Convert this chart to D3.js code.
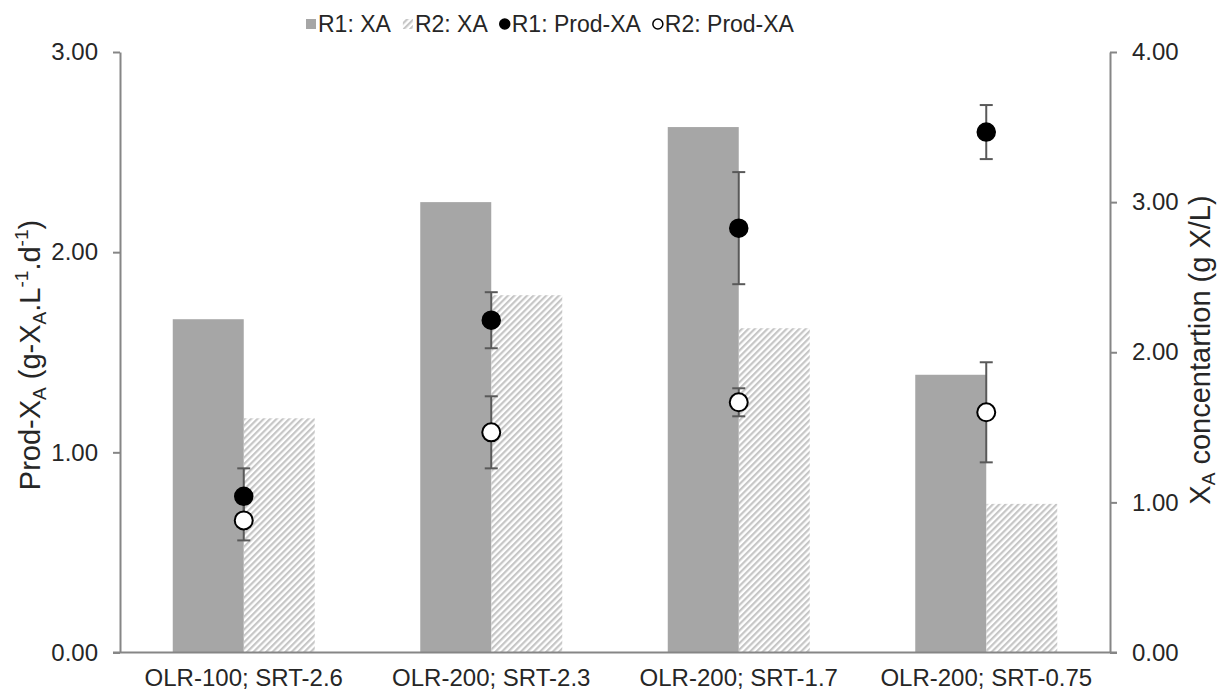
<!DOCTYPE html>
<meta charset="utf-8">
<style>
  body { margin: 0; background: #fff; }
  text { font-family: "Liberation Sans", Arial, sans-serif; fill: #262626; }
</style>

<!-- Load d3.js -->
<script src="https://d3js.org/d3.v7.min.js"></script>

<!-- Create a div where the graph will take place -->
<div id="my_dataviz"></div>

<script>

// data
var categories = ["OLR-100; SRT-2.6", "OLR-200; SRT-2.3", "OLR-200; SRT-1.7", "OLR-200; SRT-0.75"];
var r1XA = [2.22, 3.00, 3.50, 1.85];       // right axis, g X/L
var r2XA = [1.56, 2.38, 2.16, 0.99];
var r1Prod = [0.78, 1.66, 2.12, 2.60];     // left axis
var r1ProdErr = [0.14, 0.14, 0.28, 0.135];
var r2Prod = [0.66, 1.10, 1.25, 1.20];
var r2ProdErr = [0.10, 0.18, 0.07, 0.25];
var leftTicks = [0, 1, 2, 3];
var rightTicks = [0, 1, 2, 3, 4];

var W = 1223, H = 693;
var margin = {top: 52, right: 113, bottom: 40.5, left: 120},
    width = W - margin.left - margin.right,
    height = H - margin.top - margin.bottom;

var svg = d3.select("#my_dataviz")
  .append("svg")
    .attr("width", W)
    .attr("height", H);

// hatch pattern for R2 bars
var defs = svg.append("defs");
defs.append("pattern")
    .attr("id", "hatch")
    .attr("patternUnits", "userSpaceOnUse")
    .attr("width", 4.5)
    .attr("height", 4.5)
    .attr("patternTransform", "rotate(45)")
  .append("rect")
    .attr("width", 2.2)
    .attr("height", 4.5)
    .attr("fill", "#c6c6c6");

var g = svg.append("g")
    .attr("transform", "translate(" + margin.left + "," + margin.top + ")");

// scales
var x0 = d3.scaleBand().domain(categories).range([0, width]).padding(0);
var x1 = d3.scaleBand().domain(["R1", "R2"]).range([0, x0.bandwidth()]).paddingInner(0).paddingOuter(0.743);
var yL = d3.scaleLinear().domain([0, 3]).range([height, 0]);
var yR = d3.scaleLinear().domain([0, 4]).range([height, 0]);

// bars
var rows = categories.map(function(c, i) {
  return {cat: c, r1: r1XA[i], r2: r2XA[i], p1: r1Prod[i], e1: r1ProdErr[i], p2: r2Prod[i], e2: r2ProdErr[i]};
});

g.selectAll(".barR1")
  .data(rows)
  .enter().append("rect")
    .attr("x", function(d) { return x0(d.cat) + x1("R1"); })
    .attr("y", function(d) { return yR(d.r1); })
    .attr("width", x1.bandwidth())
    .attr("height", function(d) { return height - yR(d.r1); })
    .attr("fill", "#a6a6a6");

g.selectAll(".barR2")
  .data(rows)
  .enter().append("rect")
    .attr("x", function(d) { return x0(d.cat) + x1("R2"); })
    .attr("y", function(d) { return yR(d.r2); })
    .attr("width", x1.bandwidth())
    .attr("height", function(d) { return height - yR(d.r2); })
    .attr("fill", "url(#hatch)");

// axes
var axisColor = "#868686";
var gl = g.append("g")
    .call(d3.axisLeft(yL).tickValues(leftTicks).tickFormat(d3.format(".2f")).tickSize(7).tickSizeOuter(0).tickPadding(15));
var gr = g.append("g")
    .attr("transform", "translate(" + width + ",0)")
    .call(d3.axisRight(yR).tickValues(rightTicks).tickFormat(d3.format(".2f")).tickSize(7).tickSizeOuter(0).tickPadding(15));
var gb = g.append("g")
    .attr("transform", "translate(0," + height + ")")
    .call(d3.axisBottom(x0).tickSize(0).tickPadding(16));

[gl, gr, gb].forEach(function(a) {
  a.selectAll("path").attr("stroke", axisColor).attr("stroke-width", 2);
  a.selectAll("line").attr("stroke", axisColor).attr("stroke-width", 2);
  a.selectAll("text").style("font-size", "24px").attr("fill", "#262626")
    .style("font-family", "'Liberation Sans', Arial, sans-serif");
});
gb.select("path").attr("d", "M-7,0H" + (width + 7));

// error bars and points
function cx(d) { return x0(d.cat) + x0.bandwidth() / 2; }
var errColor = "#595959";

function drawErr(val, err) {
  var eg = g.append("g");
  rows.forEach(function(d) {
    var x = cx(d), lo = yL(d[val] - d[err]), hi = yL(d[val] + d[err]);
    eg.append("line").attr("x1", x).attr("x2", x).attr("y1", lo).attr("y2", hi)
      .attr("stroke", errColor).attr("stroke-width", 2);
    [lo, hi].forEach(function(yy) {
      eg.append("line").attr("x1", x - 6.5).attr("x2", x + 6.5).attr("y1", yy).attr("y2", yy)
        .attr("stroke", errColor).attr("stroke-width", 2);
    });
  });
}
drawErr("p1", "e1");
drawErr("p2", "e2");

g.selectAll(".p1")
  .data(rows)
  .enter().append("circle")
    .attr("cx", cx)
    .attr("cy", function(d) { return yL(d.p1); })
    .attr("r", 9)
    .attr("fill", "#000")
    .attr("stroke", "#000")
    .attr("stroke-width", 1.5);

g.selectAll(".p2")
  .data(rows)
  .enter().append("circle")
    .attr("cx", cx)
    .attr("cy", function(d) { return yL(d.p2); })
    .attr("r", 9)
    .attr("fill", "#fff")
    .attr("stroke", "#000")
    .attr("stroke-width", 2);

// axis titles
var lt = svg.append("text")
    .attr("transform", "translate(40,355) rotate(-90)")
    .attr("text-anchor", "middle")
    .style("font-size", "29px");
lt.append("tspan").text("Prod-X");
lt.append("tspan").text("A").style("font-size", "19px").attr("dy", 6);
lt.append("tspan").text(" (g-X").attr("dy", -6);
lt.append("tspan").text("A").style("font-size", "19px").attr("dy", 6);
lt.append("tspan").text(".L").attr("dy", -6);
lt.append("tspan").text("-1").style("font-size", "19px").attr("dy", -12);
lt.append("tspan").text(".d").attr("dy", 12);
lt.append("tspan").text("-1").style("font-size", "19px").attr("dy", -12);
lt.append("tspan").text(")").attr("dy", 12);

var rt = svg.append("text")
    .attr("transform", "translate(1210,350) rotate(-90)")
    .attr("text-anchor", "middle")
    .style("font-size", "29px");
rt.append("tspan").text("X");
rt.append("tspan").text("A").style("font-size", "19px").attr("dy", 5);
rt.append("tspan").text(" concentartion (g X/L)").attr("dy", -5);

// legend
var legendItems = [
  {label: "R1: XA", type: "rect", fill: "#a6a6a6"},
  {label: "R2: XA", type: "rect", fill: "url(#hatch)"},
  {label: "R1: Prod-XA", type: "circle", fill: "#000"},
  {label: "R2: Prod-XA", type: "circle", fill: "#fff"}
];
var lg = svg.append("g").attr("transform", "translate(0,24)");
var xpos = 306;
legendItems.forEach(function(it) {
  if (it.type == "rect") {
    lg.append("rect").attr("x", xpos).attr("y", -5).attr("width", 10).attr("height", 10).attr("fill", it.fill);
  } else {
    lg.append("circle").attr("cx", xpos + 5).attr("cy", 0).attr("r", 5)
      .attr("fill", it.fill).attr("stroke", "#000").attr("stroke-width", 1.5);
  }
  var t = lg.append("text").attr("x", xpos + 12).attr("y", 0).attr("dy", "0.35em")
    .style("font-size", "23px").text(it.label);
  xpos += 12 + t.node().getComputedTextLength() + 12;
});

</script>
